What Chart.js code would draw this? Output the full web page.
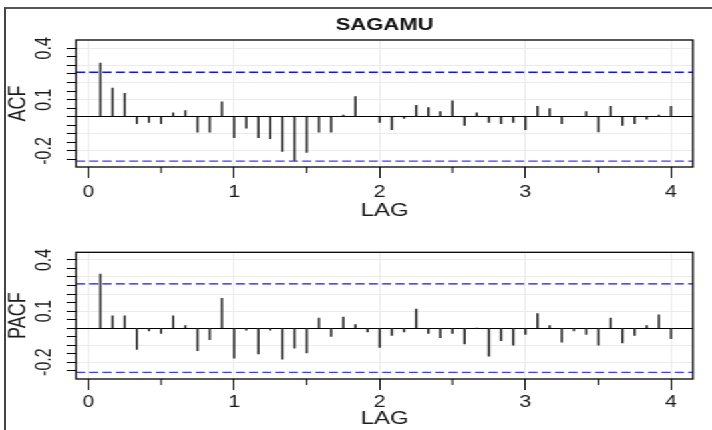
<!DOCTYPE html>
<html>
<head>
<meta charset="utf-8">
<script src="https://cdn.jsdelivr.net/npm/chart.js@4"></script>
<style>
  html, body { margin: 0; padding: 0; background: #fff; }
  body { width: 712px; height: 430px; overflow: hidden; position: relative; }
  #frame { position: absolute; left: 4px; top: 7px; width: 760px; height: 440px;
           border-top: 2px solid #555; border-left: 2px solid #444; }
  /* the source figure was stretched sideways, so draw narrow and scale in x */
  #stretch { position: absolute; left: 0; top: 0; width: 535px; height: 430px;
             transform: scaleX(1.3308); transform-origin: 0 0; }
  #acfBox { position: absolute; left: 0; top: 0; }
  #pacfBox { position: absolute; left: 0; top: 222px; }
</style>
</head>
<body>
<div id="frame"></div>
<div id="stretch">
  <div id="acfBox"><canvas id="acfChart" width="535" height="222"></canvas></div>
  <div id="pacfBox"><canvas id="pacfChart" width="535" height="208"></canvas></div>
</div>
<script>
// lag in years (monthly series, 48 lags)
const lags = [
  0.0833, 0.1667, 0.25, 0.3333, 0.4167, 0.5, 0.5833, 0.6667, 0.75, 0.8333, 0.9167, 1.0,
  1.0833, 1.1667, 1.25, 1.3333, 1.4167, 1.5, 1.5833, 1.6667, 1.75, 1.8333, 1.9167, 2.0,
  2.0833, 2.1667, 2.25, 2.3333, 2.4167, 2.5, 2.5833, 2.6667, 2.75, 2.8333, 2.9167, 3.0,
  3.0833, 3.1667, 3.25, 3.3333, 3.4167, 3.5, 3.5833, 3.6667, 3.75, 3.8333, 3.9167, 4.0
];

const acfValues = [
  0.314, 0.167, 0.137, -0.040, -0.034, -0.040, 0.023, 0.036, -0.091, -0.091, 0.087, -0.122,
  -0.067, -0.122, -0.129, -0.203, -0.257, -0.209, -0.091, -0.091, 0.010, 0.118, 0.000, -0.034,
  -0.076, -0.010, 0.067, 0.053, 0.030, 0.093, -0.051, 0.023, -0.034, -0.040, -0.034, -0.076,
  0.061, 0.048, -0.040, 0.000, 0.030, -0.089, 0.061, -0.051, -0.040, -0.015, 0.010, 0.061
];

const pacfValues = [
  0.317, 0.072, 0.072, -0.126, -0.017, -0.031, 0.072, 0.014, -0.132, -0.068, 0.175, -0.177,
  -0.012, -0.151, -0.012, -0.183, -0.118, -0.146, 0.058, -0.049, 0.064, 0.021, -0.023, -0.113,
  -0.043, -0.023, 0.111, -0.031, -0.056, -0.031, -0.093, 0.000, -0.165, -0.074, -0.101, -0.037,
  0.085, 0.014, -0.082, -0.017, -0.037, -0.101, 0.058, -0.087, -0.043, 0.014, 0.078, -0.062
];

const sigLimit = 0.26;   // +/- 1.96/sqrt(n)

const xTicks = [0, 1, 2, 3, 4];
const xMinorTicks = [0.5, 1.5, 2.5, 3.5];
const yTicks = [-0.25, -0.2, -0.15, -0.1, -0.05, 0, 0.05, 0.1, 0.15, 0.2, 0.25, 0.3, 0.35, 0.4];
const yLabelTicks = [-0.2, 0.1, 0.4];

const X_MIN = -0.0844, X_MAX = 4.15;

Chart.defaults.font.family = "'Liberation Sans', Arial, sans-serif";
Chart.defaults.color = '#1a1a1a';

// box, minor x ticks and the rotated y labels (R style)
const rStyle = {
  id: 'rStyle',
  afterDraw(chart) {
    const ctx = chart.ctx;
    const a = chart.chartArea;
    const xs = chart.scales.x, ys = chart.scales.y;
    ctx.save();
    ctx.strokeStyle = '#000';
    ctx.lineWidth = 1.3;
    ctx.strokeRect(a.left, a.top, a.right - a.left, a.bottom - a.top);

    ctx.lineWidth = 1;
    xMinorTicks.forEach(v => {
      const px = xs.getPixelForValue(v);
      ctx.beginPath();
      ctx.moveTo(px, a.bottom);
      ctx.lineTo(px, a.bottom + 6);
      ctx.stroke();
    });

    ctx.fillStyle = '#1a1a1a';
    ctx.font = "16px 'Liberation Sans', Arial, sans-serif";
    ctx.textAlign = 'center';
    ctx.textBaseline = 'middle';
    yLabelTicks.forEach(v => {
      const py = ys.getPixelForValue(v);
      ctx.save();
      ctx.translate(33.8, py);
      ctx.rotate(-Math.PI / 2);
      ctx.fillText(String(v), 0, 0);
      ctx.restore();
    });
    ctx.restore();
  }
};

function makePanel(canvasId, values, yLabel, opts) {
  const bars = lags.map((l, i) => ({ x: l, y: values[i] }));
  return new Chart(document.getElementById(canvasId), {
    type: 'bar',
    data: {
      datasets: [
        {
          data: bars,
          backgroundColor: '#2b2b2b',
          barThickness: 1,
          order: 1
        },
        {
          type: 'line',
          data: [{ x: X_MIN, y: sigLimit }, { x: X_MAX, y: sigLimit }],
          borderColor: '#1010ff',
          borderWidth: 1.3,
          borderDash: [6.8, 3.2],
          pointRadius: 0,
          order: 0
        },
        {
          type: 'line',
          data: [{ x: X_MIN, y: -sigLimit }, { x: X_MAX, y: -sigLimit }],
          borderColor: '#3a3aff',
          borderWidth: 1.3,
          borderDash: [6.8, 3.2],
          pointRadius: 0,
          order: 0
        }
      ]
    },
    options: {
      responsive: false,
      animation: false,
      layout: { padding: { left: 0, right: 14.3, top: opts.padTop, bottom: 0 } },
      plugins: {
        legend: { display: false },
        tooltip: { enabled: false },
        title: opts.title ? {
          display: true,
          text: opts.title,
          fullSize: false,
          color: '#111',
          font: { size: 16.5, weight: 'bold' },
          padding: { top: 16, bottom: 4.2 }
        } : { display: false }
      },
      scales: {
        x: {
          type: 'linear',
          offset: false,
          min: X_MIN,
          max: X_MAX,
          afterBuildTicks: s => { s.ticks = xTicks.map(v => ({ value: v })); },
          afterFit: s => { s.height = opts.xHeight; },
          grid: { offset: false, color: '#ebebeb', tickColor: '#000', tickLength: 11, tickWidth: 1 },
          border: { display: false },
          ticks: { padding: opts.xPad, font: { size: 16 }, color: '#1a1a1a', maxRotation: 0 },
          title: { display: true, text: 'LAG', font: { size: 18 }, color: '#1a1a1a', padding: { top: 0, bottom: 0 } }
        },
        y: {
          min: opts.yMin,
          max: opts.yMax,
          afterBuildTicks: s => { s.ticks = yTicks.map(v => ({ value: v })); },
          afterFit: s => { s.width = 57.1; },
          grid: {
            color: c => {
              const v = Math.round(c.tick.value * 100);
              if (v === 0) return '#000';
              return v % 10 === 0 ? '#ebebeb' : 'rgba(0,0,0,0)';
            },
            tickColor: '#000',
            tickLength: 7,
            tickWidth: 1
          },
          border: { display: false },
          ticks: { display: false },
          title: { display: true, text: yLabel, font: { size: 18 }, color: '#1a1a1a', padding: { top: 3.1, bottom: 0 } }
        }
      }
    },
    plugins: [rStyle]
  });
}

makePanel('acfChart', acfValues, 'ACF', {
  title: 'SAGAMU', padTop: 0, xHeight: 55, xPad: 5, yMin: -0.294, yMax: 0.4485
});
makePanel('pacfChart', pacfValues, 'PACF', {
  title: null, padTop: 30.3, xHeight: 51, xPad: 3, yMin: -0.299, yMax: 0.445
});
</script>
</body>
</html>
